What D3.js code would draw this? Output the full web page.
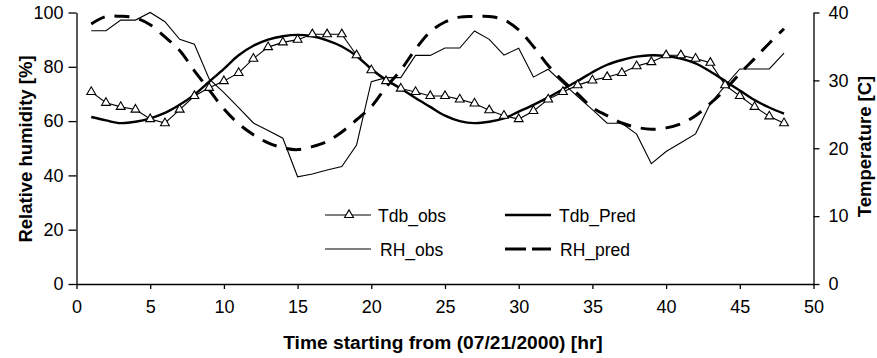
<!DOCTYPE html>
<html><head><meta charset="utf-8">
<script src="https://cdn.jsdelivr.net/npm/d3@7"></script>
<style>
body{margin:0;background:#fff;}
text{font-family:"Liberation Sans",Arial,Helvetica,sans-serif;}
</style></head>
<body><svg id="c" width="877" height="358"></svg>
<script>
const hours = [1,2,3,4,5,6,7,8,9,10,11,12,13,14,15,16,17,18,19,20,21,22,23,24,25,26,27,28,29,30,31,32,33,34,35,36,37,38,39,40,41,42,43,44,45,46,47,48];
const tdbObs = [28.3,26.7,26.1,25.7,24.3,23.7,25.7,27.7,28.9,29.9,31.1,33.2,34.9,35.6,36.0,36.8,36.8,36.8,33.7,31.5,29.9,28.8,28.3,27.7,27.7,27.2,26.6,25.6,24.8,24.3,25.5,27.2,28.3,29.3,30.0,30.5,31.1,32.1,32.7,33.7,33.7,33.2,32.6,29.3,27.7,26.1,24.7,23.7];
const tdbPred = [24.6,24.1,23.7,23.9,24.4,25.2,26.4,27.9,29.8,31.7,33.7,35.1,36.0,36.5,36.7,36.5,35.9,35.0,33.6,31.7,30.1,28.8,27.4,26.1,24.8,24.0,23.7,23.9,24.4,25.4,26.4,27.5,28.7,29.9,31.2,32.3,33.0,33.5,33.7,33.6,33.2,32.5,31.3,29.9,28.5,27.1,26.0,25.1];
const rhObs = [93.3,93.3,97.2,97.2,100,96.6,90.1,88.3,75.5,70.5,65.0,59.3,56.5,53.7,39.5,40.5,42.0,43.3,51.2,74.5,76.0,76.0,84.2,84.2,86.9,86.9,93.2,90.1,84.3,86.8,76.2,79.1,74.0,69.0,64.2,59.2,59.2,55.2,44.3,48.8,52.0,55.3,66.5,73.0,79.2,79.2,79.2,85.0];
const rhPred = [95.8,98.5,98.6,98.0,95.5,91.0,86.0,78.5,71.5,64.5,59.0,55.0,52.0,50.2,49.5,50.6,52.5,56.0,60.5,65.3,72.5,78.8,86.5,92.9,96.5,98.3,98.5,98.5,97.3,93.6,87.5,80.5,74.8,70.0,65.0,62.0,59.3,57.7,57.0,57.5,59.0,62.0,66.5,71.5,77.5,83.0,88.7,94.0];
const xTicks = [0,5,10,15,20,25,30,35,40,45,50];
const rhTicks = [0,20,40,60,80,100];
const tTicks = [0,10,20,30,40];
const seriesNames = ["Tdb_obs","Tdb_Pred","RH_obs","RH_pred"];

const svg = d3.select("#c");
const x = d3.scaleLinear().domain([0,50]).range([76.5,813.5]);
const yL = d3.scaleLinear().domain([0,100]).range([284,12.5]);
const yR = d3.scaleLinear().domain([0,40]).range([284,12.5]);

function styleAxis(g){
  g.selectAll("path").attr("stroke","#000").attr("stroke-width",1.3);
  g.selectAll("line").attr("stroke","#000").attr("stroke-width",1.3);
  g.selectAll("text").attr("font-size",18).attr("fill","#000").attr("font-family","Liberation Sans, Arial, sans-serif");
}
svg.append("g").attr("transform","translate(0,284)")
  .call(d3.axisBottom(x).tickValues(xTicks).tickSize(5).tickSizeOuter(0).tickPadding(11))
  .call(styleAxis);
svg.append("g").attr("transform","translate(76.5,0)")
  .call(d3.axisLeft(yL).tickValues(rhTicks).tickSize(8).tickSizeOuter(0).tickPadding(5))
  .call(styleAxis);
svg.append("g").attr("transform","translate(813.5,0)")
  .call(d3.axisRight(yR).tickValues(tTicks).tickSize(6).tickSizeOuter(0).tickPadding(9))
  .call(styleAxis);

// axis titles
svg.append("text").attr("x",443).attr("y",349).attr("text-anchor","middle")
  .attr("font-size",19.2).attr("font-weight","bold").text("Time starting from (07/21/2000) [hr]");
svg.append("text").attr("transform","translate(32,149) rotate(-90)").attr("text-anchor","middle")
  .attr("font-size",18.5).attr("font-weight","bold").text("Relative humidity [%]");
svg.append("text").attr("transform","translate(871,146.5) rotate(-90)").attr("text-anchor","middle")
  .attr("font-size",18.5).attr("font-weight","bold").text("Temperature [C]");

const plot = svg.append("g");
const lineL = d3.line().x((d,i)=>x(hours[i])).y(d=>yL(d));
const lineR = d3.line().x((d,i)=>x(hours[i])).y(d=>yR(d));
const smoothL = d3.line().curve(d3.curveCatmullRom.alpha(0.5)).x((d,i)=>x(hours[i])).y(d=>yL(d));
const smoothR = d3.line().curve(d3.curveCatmullRom.alpha(0.5)).x((d,i)=>x(hours[i])).y(d=>yR(d));

plot.append("path").datum(rhObs).attr("d",lineL).attr("fill","none").attr("stroke","#000").attr("stroke-width",1.1);
plot.append("path").datum(rhPred).attr("d",smoothL).attr("fill","none").attr("stroke","#000").attr("stroke-width",3).attr("stroke-dasharray","15,10");
plot.append("path").datum(tdbPred).attr("d",smoothR).attr("fill","none").attr("stroke","#000").attr("stroke-width",2.4);
plot.append("path").datum(tdbObs).attr("d",lineR).attr("fill","none").attr("stroke","#000").attr("stroke-width",1.1);
const tri = d3.symbol().type(d3.symbolTriangle).size(34);
plot.selectAll("path.tri").data(tdbObs).join("path").attr("class","tri")
  .attr("d",tri).attr("transform",(d,i)=>`translate(${x(hours[i])},${yR(d)})`)
  .attr("fill","#fff").attr("stroke","#000").attr("stroke-width",1.1);

// legend
const lg = svg.append("g");
const legendItems = [
  {name:seriesNames[0], x:325, y:215, tx:378, w:1.1, dash:null, marker:true},
  {name:seriesNames[1], x:505, y:215, tx:559, w:2.4, dash:null, marker:false},
  {name:seriesNames[2], x:325, y:249, tx:380, w:1.1, dash:null, marker:false},
  {name:seriesNames[3], x:505, y:249, tx:560, w:3, dash:"21,6", marker:false}
];
legendItems.forEach(it=>{
  lg.append("line").attr("x1",it.x).attr("x2",it.x+46).attr("y1",it.y).attr("y2",it.y)
    .attr("stroke","#000").attr("stroke-width",it.w).attr("stroke-dasharray",it.dash);
  if(it.marker){
    lg.append("path").attr("d",tri).attr("transform",`translate(${it.x+24},${it.y})`)
      .attr("fill","#fff").attr("stroke","#000").attr("stroke-width",1.1);
  }
  lg.append("text").attr("x",it.tx).attr("y",it.y+7)
    .attr("font-size",17.5).text(it.name);
});
</script></body></html>
